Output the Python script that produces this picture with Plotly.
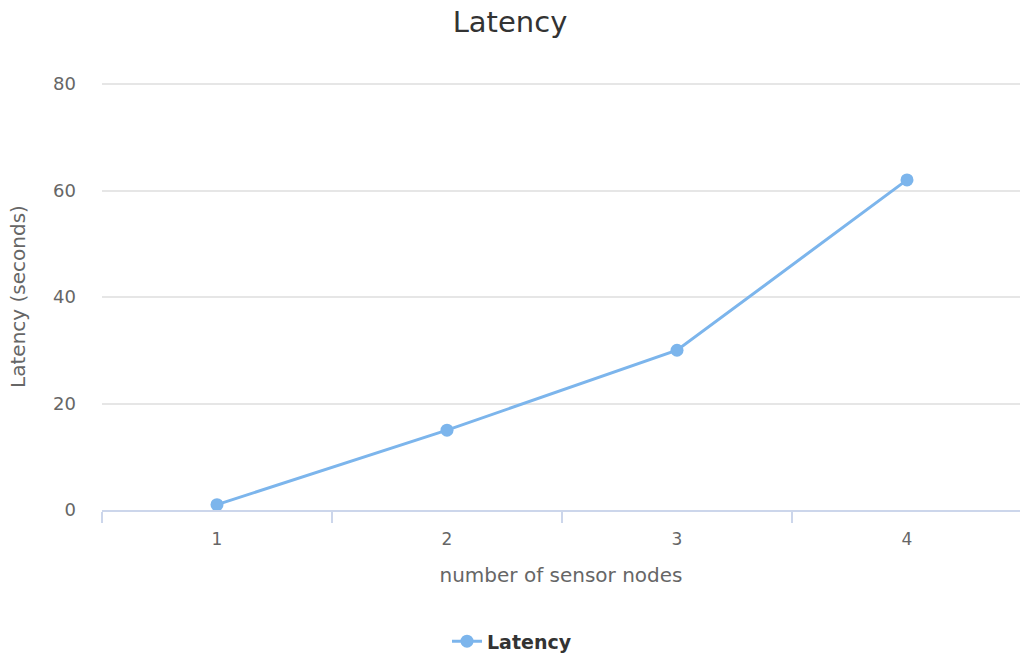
import plotly.graph_objects as go

# Latency measured against the number of sensor nodes
nodes = [1, 2, 3, 4]
node_labels = ["1", "2", "3", "4"]
latency = [1, 15, 30, 62]
y_ticks = [0, 20, 40, 60, 80]

LINE = "#7cb5ec"
FONT = "DejaVu Sans, Verdana, sans-serif"

PLOT_TOP = 84
PLOT_BOTTOM = 510
PLOT_H = PLOT_BOTTOM - PLOT_TOP

fig = go.Figure()
fig.add_trace(go.Scatter(
    x=nodes,
    y=latency,
    mode="lines+markers",
    name="Latency",
    line=dict(color=LINE, width=3),
    marker=dict(color=LINE, size=13),
))

fig.update_layout(
    width=1020,
    height=653,
    margin=dict(l=102, r=0, t=PLOT_TOP - 1, b=653 - PLOT_BOTTOM, autoexpand=False),
    paper_bgcolor="white",
    plot_bgcolor="white",
    font=dict(family=FONT, color="#666666", size=18),
    title=dict(
        text="Latency",
        x=0.5, xanchor="center",
        y=1 - 22 / 653, yanchor="middle",
        font=dict(family=FONT, size=29, color="#333333"),
    ),
    showlegend=True,
    legend=dict(
        orientation="h",
        x=(512 - 102) / 918, xanchor="center",
        y=-(641 - PLOT_BOTTOM) / PLOT_H, yanchor="middle",
        font=dict(family=FONT, size=19, color="#333333", weight="bold"),
    ),
    xaxis=dict(
        range=[0.5, 0.5 + 918 / 230],
        tickmode="array",
        tickvals=nodes,
        ticktext=node_labels,
        ticks="outside",
        ticklen=0,
        tickcolor="rgba(0,0,0,0)",
        ticklabelstandoff=13,
        minor=dict(tickmode="array", tickvals=[0.5, 1.5, 2.5, 3.5],
                   ticklen=11, tickcolor="#ccd6eb", tickwidth=1.5),
        showgrid=False,
        zeroline=False,
        showline=True,
        linecolor="#ccd6eb",
        linewidth=1.5,
        tickfont=dict(size=17, color="#666666"),
        title=dict(text="number of sensor nodes", standoff=20,
                   font=dict(size=20, color="#666666")),
    ),
    yaxis=dict(
        range=[0, 80.2],
        tickmode="array",
        tickvals=y_ticks,
        showgrid=True,
        gridcolor="#e6e6e6",
        gridwidth=1.5,
        zeroline=False,
        showline=False,
        ticks="",
        ticklabelstandoff=25,
        tickfont=dict(size=18, color="#666666"),
        title=dict(text="Latency (seconds)", standoff=22,
                   font=dict(size=20, color="#666666")),
    ),
)

fig.write_html("out.html")
